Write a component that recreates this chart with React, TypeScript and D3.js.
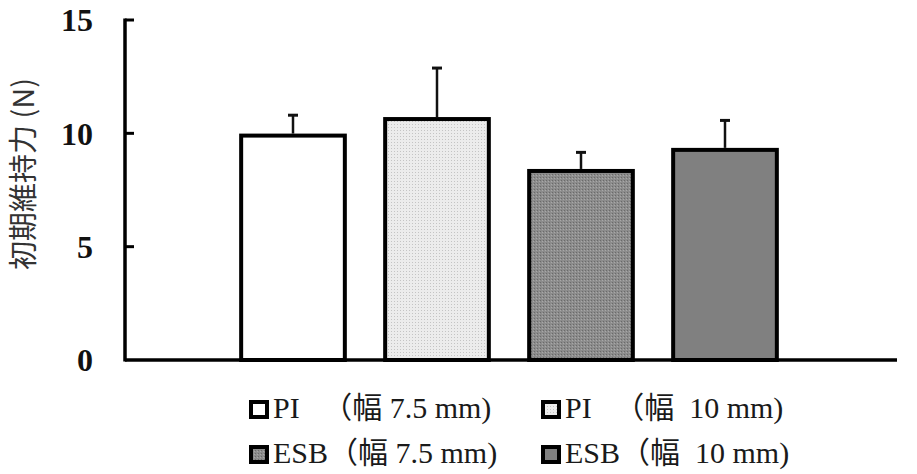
import React, { useEffect, useRef } from 'react';
import * as d3 from 'd3';

// Initial retention force per group (mean + SD)
const groups = ['PI7.5', 'PI10', 'ESB7.5', 'ESB10'];
const means = [9.9, 10.63, 8.34, 9.27];
const sds = [0.9, 2.25, 0.82, 1.3];
const legendLabels = ['PI   （幅 7.5 mm)', 'PI   （幅  10 mm)', 'ESB（幅 7.5 mm)', 'ESB（幅  10 mm)'];
const yTicks = [0, 5, 10, 15];

const W = 917;
const H = 474;

const App: React.FC = () => {
  const svgRef = useRef<SVGSVGElement>(null);

  useEffect(() => {
    if (!svgRef.current) return;
    const svg = d3.select(svgRef.current);
    svg.selectAll('*').remove();

    const axisX = 125;
    const axisRight = 897;
    const y0 = 360;
    const yTop = 20;

    const y = d3.scaleLinear().domain([0, 15]).range([y0, yTop]);
    const x = d3.scaleBand<string>()
      .domain(groups)
      .range([221, 797])
      .paddingInner(0.28)
      .paddingOuter(0.14);

    // Fill patterns: light stipple, dark stipple, solid gray
    const defs = svg.append('defs');
    const light = defs.append('pattern')
      .attr('id', 'stipple-light')
      .attr('width', 3).attr('height', 3)
      .attr('patternUnits', 'userSpaceOnUse');
    light.append('rect').attr('width', 3).attr('height', 3).attr('fill', '#ececec');
    light.append('rect').attr('x', 1).attr('y', 1).attr('width', 1).attr('height', 1).attr('fill', '#c4c4c4');

    const dark = defs.append('pattern')
      .attr('id', 'stipple-dark')
      .attr('width', 3).attr('height', 3)
      .attr('patternUnits', 'userSpaceOnUse');
    dark.append('rect').attr('width', 3).attr('height', 3).attr('fill', '#8c8c8c');
    dark.append('rect').attr('x', 0).attr('y', 0).attr('width', 1).attr('height', 1).attr('fill', '#6a6a6a');
    dark.append('rect').attr('x', 2).attr('y', 1).attr('width', 1).attr('height', 1).attr('fill', '#a8a8a8');

    const fills = ['#ffffff', 'url(#stipple-light)', 'url(#stipple-dark)', '#808080'];

    // Bars
    svg.append('g')
      .selectAll('rect')
      .data(groups)
      .join('rect')
      .attr('x', d => x(d)!)
      .attr('y', (d, i) => y(means[i]))
      .attr('width', x.bandwidth())
      .attr('height', (d, i) => y0 - y(means[i]))
      .attr('fill', (d, i) => fills[i])
      .attr('stroke', '#000')
      .attr('stroke-width', 4);

    // Error bars (upper only)
    const err = svg.append('g').attr('stroke', '#111');
    groups.forEach((g, i) => {
      const cx = x(g)! + x.bandwidth() / 2;
      err.append('line')
        .attr('x1', cx).attr('x2', cx)
        .attr('y1', y(means[i]) - 2)
        .attr('y2', y(means[i] + sds[i]))
        .attr('stroke-width', 2.5);
      err.append('line')
        .attr('x1', cx - 5).attr('x2', cx + 5)
        .attr('y1', y(means[i] + sds[i]))
        .attr('y2', y(means[i] + sds[i]))
        .attr('stroke-width', 3);
    });

    // Axes
    svg.append('line')
      .attr('x1', axisX).attr('x2', axisX)
      .attr('y1', yTop - 1.5).attr('y2', y0 + 1.5)
      .attr('stroke', '#000').attr('stroke-width', 3.5);
    svg.append('line')
      .attr('x1', axisX).attr('x2', axisRight)
      .attr('y1', y0).attr('y2', y0)
      .attr('stroke', '#000').attr('stroke-width', 3.5);

    const ticks = svg.append('g');
    ticks.selectAll('line')
      .data(yTicks.filter(t => t > 0))
      .join('line')
      .attr('x1', axisX).attr('x2', axisX + 9)
      .attr('y1', d => y(d)).attr('y2', d => y(d))
      .attr('stroke', '#000').attr('stroke-width', 3);

    ticks.selectAll('text')
      .data(yTicks)
      .join('text')
      .attr('x', 93)
      .attr('y', d => y(d))
      .attr('dy', '0.35em')
      .attr('text-anchor', 'end')
      .attr('font-family', '"Liberation Serif", "Times New Roman", serif')
      .attr('font-weight', 'bold')
      .attr('font-size', 32)
      .attr('fill', '#111')
      .text(d => d);

    // Y axis title
    svg.append('text')
      .attr('transform', `translate(34, 174) rotate(-90)`)
      .attr('text-anchor', 'middle')
      .attr('font-family', '"Noto Sans CJK JP", "Noto Sans", sans-serif')
      .attr('font-size', 29)
      .attr('fill', '#333')
      .text('初期維持力 (N)');

    // Legend: 2 x 2 grid
    const legend = svg.append('g')
      .attr('font-family', '"Liberation Serif", "Noto Sans CJK JP", serif')
      .attr('font-size', 30)
      .attr('fill', '#1a1a1a');
    const colX = [249, 541];
    const rowY = [418, 463];
    legendLabels.forEach((label, i) => {
      const cx = colX[i % 2];
      const ry = rowY[Math.floor(i / 2)];
      const row = legend.append('g');
      row.append('rect')
        .attr('x', cx + 2).attr('y', ry - 16)
        .attr('width', 16).attr('height', 15)
        .attr('fill', fills[i])
        .attr('stroke', '#000')
        .attr('stroke-width', 4);
      row.append('text')
        .attr('x', cx + 24)
        .attr('y', ry)
        .style('white-space', 'pre')
        .text(label);
    });
  }, []);

  return (
    <div style={{ position: 'absolute', left: 0, top: 0, width: W, height: H, background: '#fff' }}>
      <svg ref={svgRef} width={W} height={H} />
    </div>
  );
};

export default App;
